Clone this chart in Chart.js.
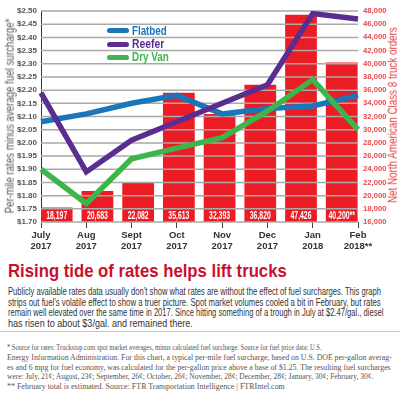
<!DOCTYPE html>
<html><head><meta charset="utf-8">
<script src="https://cdn.jsdelivr.net/npm/chart.js@4"></script>
<style>
html,body{margin:0;padding:0;background:#fff;width:400px;height:396px;overflow:hidden;}
#wrap{position:relative;width:400px;height:396px;}
canvas{position:absolute;left:0;top:0;}
.t{position:absolute;white-space:nowrap;transform-origin:0 50%;}
.r{position:absolute;white-space:nowrap;transform-origin:50% 50%;line-height:1;}
.sw{position:absolute;width:22px;height:5px;border-radius:3px;}
.lg{position:absolute;left:132px;font-weight:bold;font-size:12px;line-height:14px;white-space:nowrap;transform-origin:0 50%;}
.p{font-size:10.5px;line-height:11px;color:#333;}
.f{font-family:"Liberation Serif","Times New Roman",serif;font-size:8.5px;line-height:10px;color:#555;}
</style>
</head><body>
<div id="wrap">
<canvas id="c" width="400" height="256"></canvas>

<div class="r" data-w="195" data-rot="1" style="left:10px;top:116px;font-size:12.5px;color:#5a5a5a;">Per-mile rates minus average fuel surcharge*</div>
<div class="r" data-w="176" data-rot="1" style="left:393px;top:115px;font-size:12.5px;color:#e23a3f;">Net North American Class 8 truck orders</div>

<div class="sw" style="left:107px;top:28px;background:#1b75bb;"></div>
<div class="lg" data-w="35" style="top:24px;color:#1b75bb;">Flatbed</div>
<div class="sw" style="left:107px;top:42px;background:#5c2d91;"></div>
<div class="lg" data-w="32" style="top:37px;color:#5c2d91;">Reefer</div>
<div class="sw" style="left:107px;top:55px;background:#3db54a;"></div>
<div class="lg" data-w="37" style="top:50px;color:#3db54a;">Dry Van</div>

<div class="t" data-w="279" style="left:8px;top:261px;font-size:19px;line-height:20px;font-weight:bold;color:#c8102e;">Rising tide of rates helps lift trucks</div>

<div class="t p" data-w="373" style="left:8px;top:286px;">Publicly available rates data usually don’t show what rates are without the effect of fuel surcharges. This graph</div>
<div class="t p" data-w="373" style="left:8px;top:296.5px;">strips out fuel’s volatile effect to show a truer picture. Spot market volumes cooled a bit in February, but rates</div>
<div class="t p" data-w="375" style="left:8px;top:307px;">remain well elevated over the same time in 2017. Since hitting something of a trough in July at $2.47/gal., diesel</div>
<div class="t p" data-w="185" style="left:8px;top:317.5px;">has risen to about $3/gal. and remained there.</div>

<div style="position:absolute;left:0;top:331px;width:400px;height:1px;background:#c8c8c8;"></div>

<div class="t f" data-w="315" style="left:7px;top:341.5px;">* Source for rates: Truckstop.com spot market averages, minus calculated fuel surcharge. Source for fuel price data: U.S.</div>
<div class="t f" data-w="385" style="left:7px;top:351.5px;">Energy Information Administration. For this chart, a typical per-mile fuel surcharge, based on U.S. DOE per-gallon averag-</div>
<div class="t f" data-w="384" style="left:7px;top:361.5px;">es and 6 mpg for fuel economy, was calculated for the per-gallon price above a base of $1.25. The resulting fuel surcharges</div>
<div class="t f" data-w="366" style="left:7px;top:371px;">were: July, 21¢; August, 23¢; September, 26¢; October, 26¢; November, 28¢; December, 28¢; January, 30¢; February, 30¢.</div>
<div class="t f" data-w="278" style="left:7px;top:380.5px;">** February total is estimated. Source: FTR Transportation Intelligence | FTRIntel.com</div>
</div>

<script>
// ---------- DATA ----------
const months = [['July','2017'],['Aug','2017'],['Sept','2017'],['Oct','2017'],['Nov','2017'],['Dec','2017'],['Jan','2018'],['Feb','2018**']];
const flatbed = [2.08, 2.11, 2.15, 2.18, 2.11, 2.13, 2.14, 2.18];
const reefer  = [2.19, 1.89, 2.01, 2.08, 2.15, 2.22, 2.49, 2.47];
const dryVan  = [1.90, 1.77, 1.94, 1.98, 2.02, 2.12, 2.24, 2.05];
const orders  = [18197, 20683, 22082, 35613, 32393, 36820, 47426, 40200];
const orderNotes = ['', '', '', '', '', '', '', '**'];
const rateMin = 1.70, rateMax = 2.50, rateStep = 0.05;
const orderMin = 16000, orderMax = 48000, orderStep = 2000;
// ---------------------------

const SANS = '"Liberation Sans","Arial",sans-serif';
document.querySelectorAll('.r,.lg').forEach(e=>{ e.style.fontFamily = SANS; });
document.querySelectorAll('.t').forEach(e=>{ if(!e.classList.contains('f')) e.style.fontFamily = SANS; });

function fit(){
  document.querySelectorAll('[data-w]').forEach(el=>{
    const w = +el.dataset.w, n = el.offsetWidth, k = w / n;
    if (el.dataset.rot) el.style.transform = `translate(-50%,-50%) rotate(-90deg) scaleX(${k})`;
    else el.style.transform = `scaleX(${k})`;
  });
}
fit();
if (document.fonts && document.fonts.ready) document.fonts.ready.then(fit);

const overlay = {
  id: 'overlay',
  afterDatasetsUpdate(chart) {
    chart.data.datasets.forEach((ds, di) => {
      const meta = chart.getDatasetMeta(di);
      if (meta.type !== 'bar') return;
      const sc = meta.iScale;
      const slot = Math.abs(sc.getPixelForValue(1) - sc.getPixelForValue(0));
      const w = slot * ds.barPercentage;
      meta.data.forEach((el, i) => { el.x = sc.getPixelForValue(i); el.width = w; });
    });
  },
  afterDatasetDraw(chart, args) {
    if (args.meta.type !== 'bar') return;
    const ctx = chart.ctx, a = chart.chartArea, ys = chart.scales.y;
    ctx.save();
    ctx.strokeStyle = '#a9a9a9';
    ctx.lineWidth = 1.5;
    ys.ticks.forEach(t => {
      const py = ys.getPixelForValue(t.value);
      ctx.beginPath(); ctx.moveTo(a.left, py); ctx.lineTo(a.right, py); ctx.stroke();
    });
    ctx.fillStyle = '#fff';
    ctx.font = 'bold 11px ' + SANS;
    ctx.textAlign = 'center';
    ctx.textBaseline = 'middle';
    const k = 21 / ctx.measureText('18,197').width;
    args.meta.data.forEach((bar, i) => {
      const txt = orders[i].toLocaleString('en-US') + orderNotes[i];
      ctx.save();
      ctx.translate(bar.x, a.bottom - 6.5);
      ctx.scale(k, 1);
      ctx.fillText(txt, 0, 0);
      ctx.restore();
    });
    ctx.restore();
  }
};

const lineDs = (label, data, color, order) => ({
  type: 'line', label, data, borderColor: color, backgroundColor: color,
  borderWidth: 5.5, pointRadius: 0, tension: 0, fill: false,
  xAxisID: 'x', yAxisID: 'y', order
});

new Chart(document.getElementById('c'), {
  data: {
    labels: months,
    datasets: [
      lineDs('Flatbed', flatbed, '#1b75bb', 2),
      lineDs('Reefer', reefer, '#5c2d91', 1),
      lineDs('Dry Van', dryVan, '#3db54a', 0),
      {
        type: 'bar', label: 'Net North American Class 8 truck orders',
        data: orders.map((v, i) => ({ x: i, y: v })),
        backgroundColor: '#ec1c24', borderWidth: 0,
        xAxisID: 'xb', yAxisID: 'y2', order: 3,
        barPercentage: 0.78, categoryPercentage: 1
      }
    ]
  },
  options: {
    responsive: false, animation: false, devicePixelRatio: 1,
    layout: { padding: { top: 11, left: 0, right: 0, bottom: 0 } },
    plugins: { legend: { display: false }, tooltip: { enabled: false } },
    scales: {
      x: {
        type: 'category', offset: false, position: 'bottom',
        grid: { display: true, drawOnChartArea: false, drawTicks: true, tickLength: 6, color: '#444', lineWidth: 1 },
        border: { display: false },
        ticks: { autoSkip: false, maxRotation: 0, minRotation: 0, padding: 2, color: '#333',
                 font: { family: SANS, size: 9.5, weight: 'bold', lineHeight: 1.15 } },
        afterFit(s) { s.height = 34; }
      },
      xb: { type: 'linear', display: false, min: -0.386, max: 7.40, offset: false },
      y: {
        position: 'left', min: rateMin, max: rateMax,
        ticks: { stepSize: rateStep, padding: 4, color: '#555',
                 font: { family: SANS, size: 8, weight: 'bold' },
                 callback: v => '$' + Number(v).toFixed(2) },
        grid: { display: false, drawTicks: false },
        border: { display: true, color: '#333', width: 1 },
        afterFit(s) { s.width = 41; }
      },
      y2: {
        position: 'right', min: orderMin, max: orderMax,
        ticks: { stepSize: orderStep, padding: 5, color: '#e8474c',
                 font: { family: SANS, size: 7.7, weight: 'bold' },
                 callback: v => Number(v).toLocaleString('en-US') },
        grid: { display: false, drawTicks: false },
        border: { display: false },
        afterFit(s) { s.width = 42; }
      }
    }
  },
  plugins: [overlay]
});
</script>
</body></html>
